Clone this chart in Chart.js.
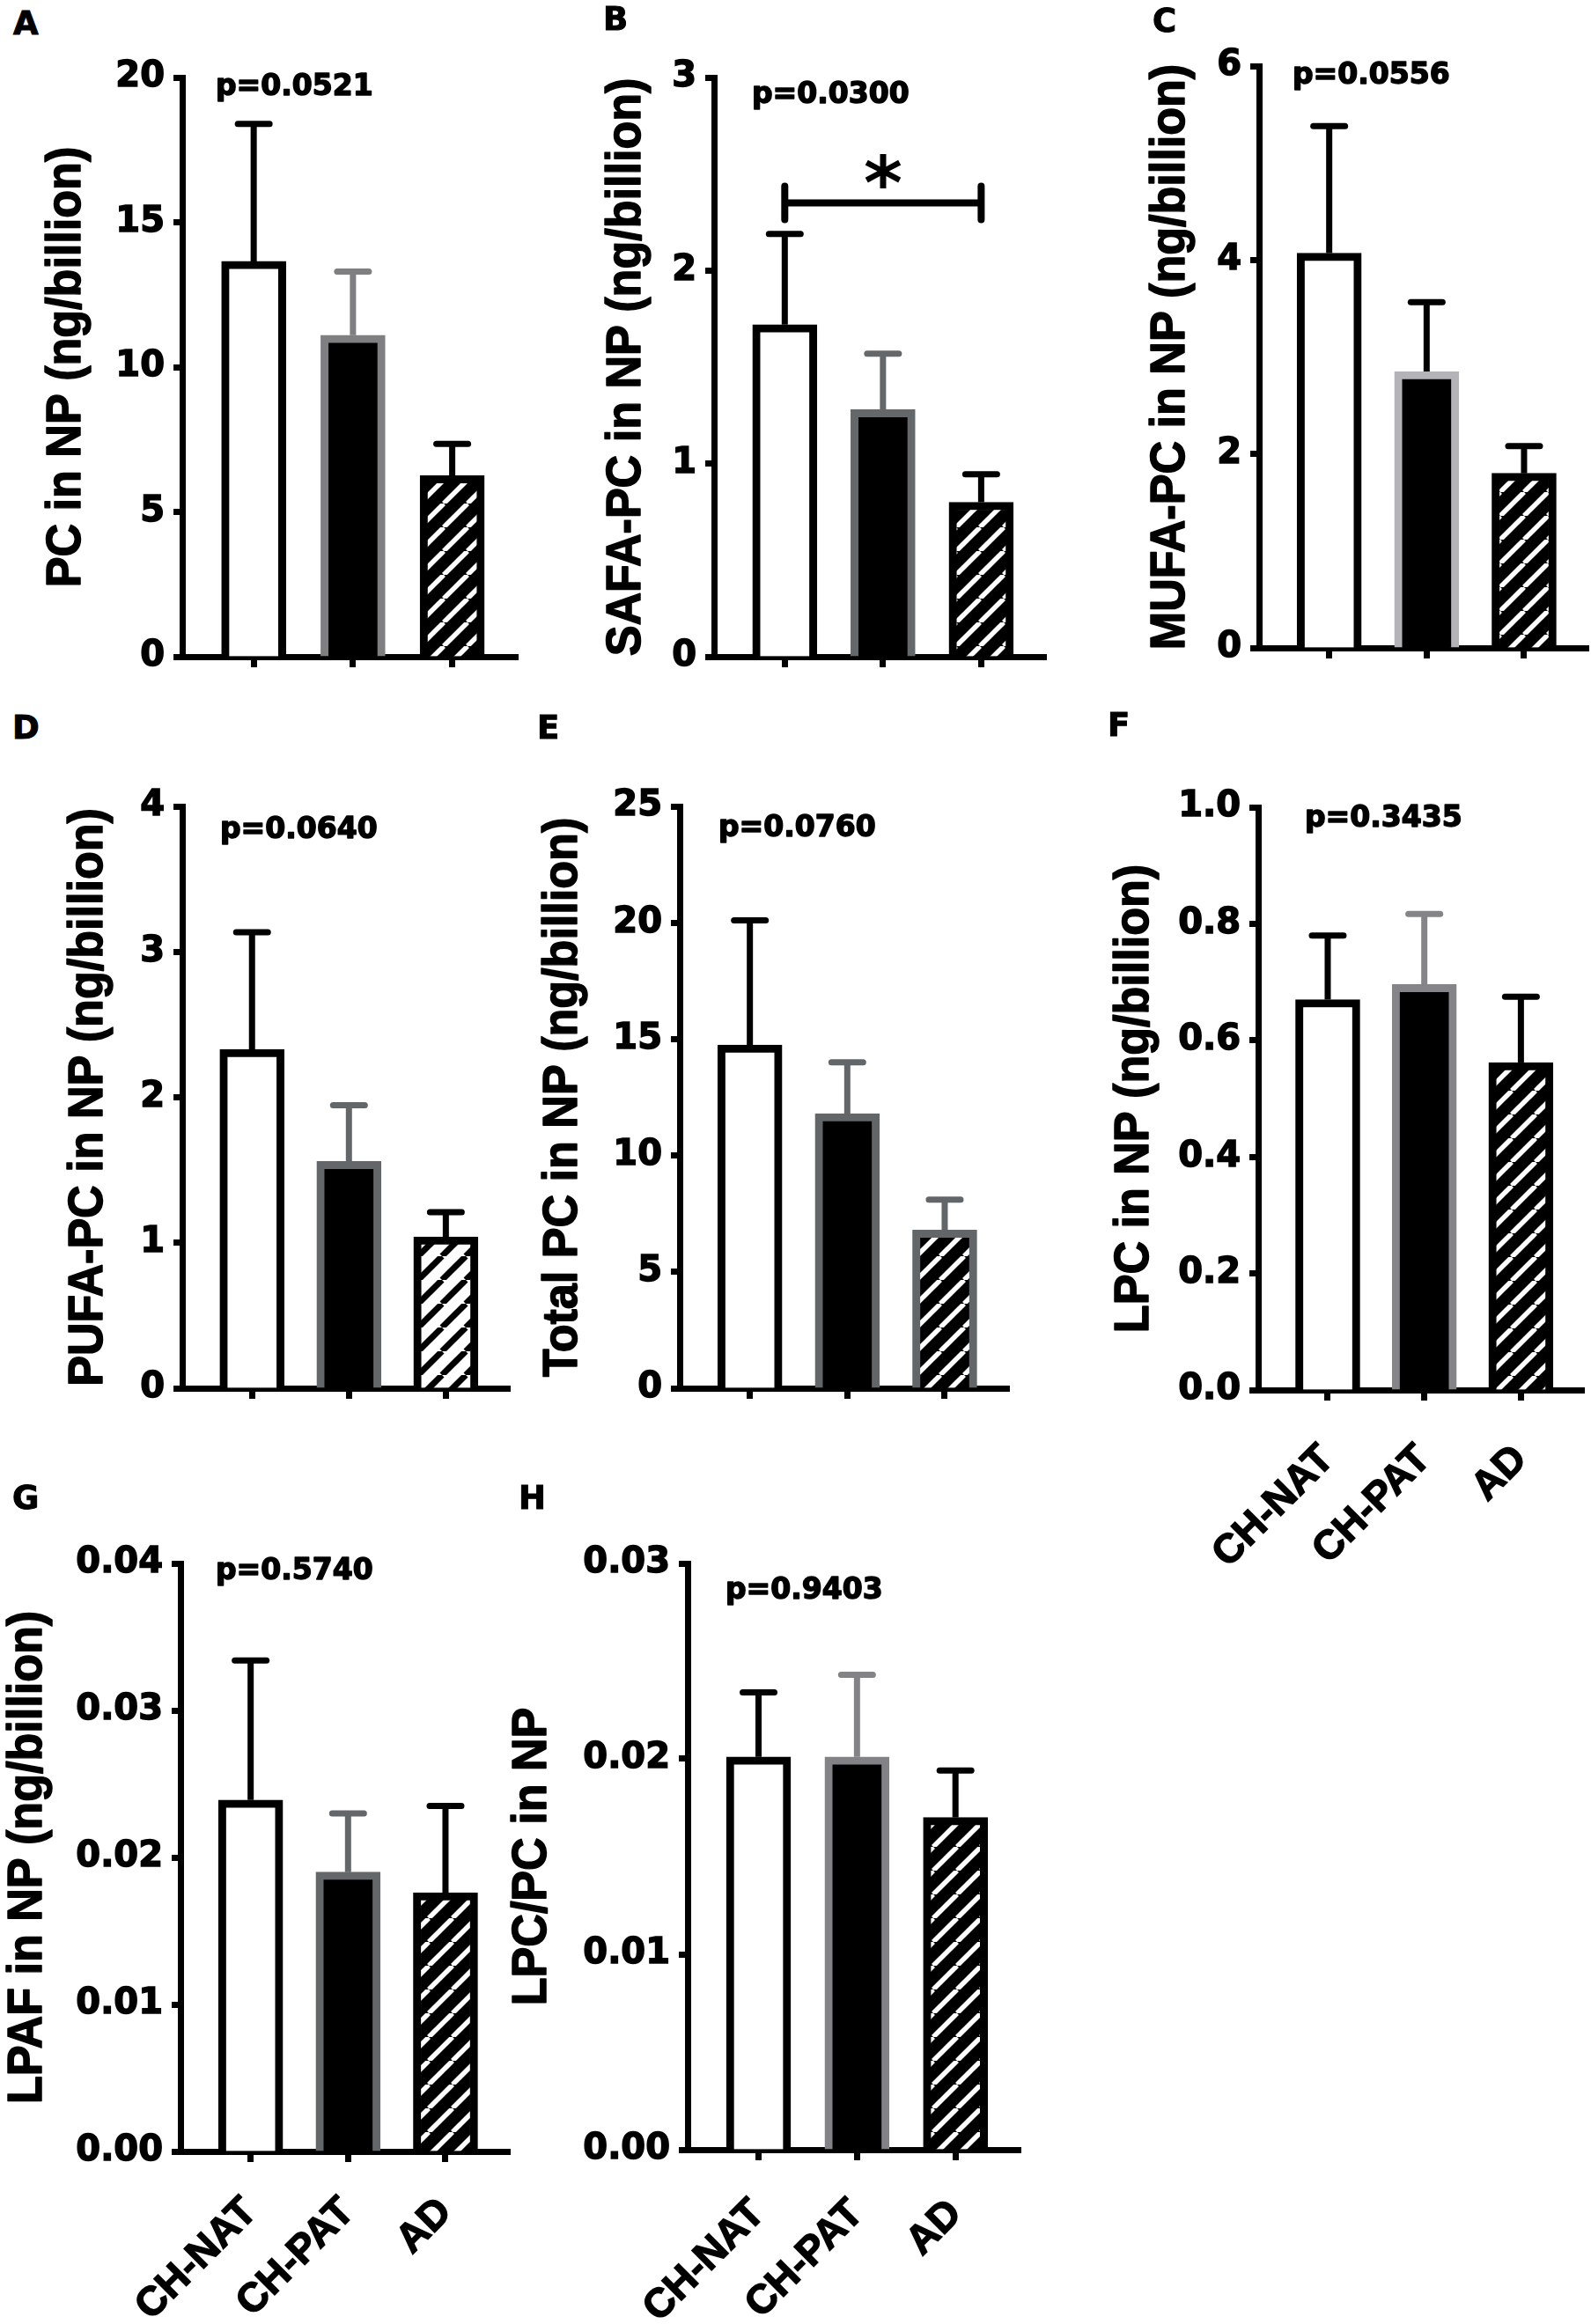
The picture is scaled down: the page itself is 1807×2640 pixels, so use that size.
<!DOCTYPE html>
<html>
<head>
<meta charset="utf-8">
<title>Phosphatidylcholine species in NP</title>
<script src="https://cdn.jsdelivr.net/npm/chart.js@4.4.1/dist/chart.umd.min.js"></script>
<style>
  body { margin: 0; background: #fff; }
  #fig { position: relative; width: 1807px; height: 2640px; background: #fff; overflow: hidden; }
  #fig canvas { position: absolute; }
  .letter { position: absolute; font: bold 37px "DejaVu Sans"; line-height: 37px; color: #000; -webkit-text-stroke: 1px #000; }
</style>
</head>
<body>
<div id="fig"></div>
<script>
// ===== data (mean and SEM per group) =====
const groups = ["CH-NAT", "CH-PAT", "AD"];

const pcMean = [13.65, 11.1, 6.25];
const pcSem = [4.75, 2.2, 1.1];
const safaMean = [1.72, 1.28, 0.80];
const safaSem = [0.47, 0.29, 0.145];
const mufaMean = [4.07, 2.85, 1.80];
const mufaSem = [1.31, 0.715, 0.28];
const pufaMean = [2.33, 1.56, 1.04];
const pufaSem = [0.805, 0.385, 0.17];
const totalMean = [14.75, 11.8, 6.8];
const totalSem = [5.35, 2.2, 1.3];
const lpcMean = [0.67, 0.696, 0.562];
const lpcSem = [0.11, 0.121, 0.113];
const lpafMean = [0.0239, 0.0190, 0.0176];
const lpafSem = [0.0095, 0.0040, 0.0059];
const ratioMean = [0.0201, 0.0201, 0.0170];
const ratioSem = [0.0033, 0.0042, 0.0024];

// y tick labels
const pcTicks = [0, 5, 10, 15, 20];
const safaTicks = [0, 1, 2, 3];
const mufaTicks = [0, 2, 4, 6];
const pufaTicks = [0, 1, 2, 3, 4];
const totalTicks = [0, 5, 10, 15, 20, 25];
const lpcTicks = [0, 0.2, 0.4, 0.6, 0.8, 1.0];
const lpafTicks = [0, 0.01, 0.02, 0.03, 0.04];
const ratioTicks = [0, 0.01, 0.02, 0.03];

const pValues = ["p=0.0521", "p=0.0300", "p=0.0556", "p=0.0640",
                 "p=0.0760", "p=0.3435", "p=0.5740", "p=0.9403"];

// significance bracket in panel B (CH-NAT vs AD)
const safaBracket = { from: 0, to: 2, level: 2.35, star: 2.54, text: "*" };

// ===== layout of the panels (page pixels) =====
const panels = [
  { letter: "A", title: "PC in NP (ng/billion)", mean: pcMean, sem: pcSem, ticks: pcTicks, dec: 0, p: pValues[0],
    axisX: 207, top: 88, bottom: 750, right: 588, titleX: 76, pDx: 38, pBase: 20, lx: 16, ly: 13,
    grey: "#7f7f82", errGrey: [false, true, false], bar3Border: "#000", lightHatch: false },
  { letter: "B", title: "SAFA-PC in NP (ng/billion)", mean: safaMean, sem: safaSem, ticks: safaTicks, dec: 0, p: pValues[1],
    axisX: 811, top: 88, bottom: 750, right: 1188, titleX: 712, pDx: 43, pBase: 29, lx: 686, ly: 8,
    grey: "#65686a", errGrey: [false, true, false], bar3Border: "#000", lightHatch: false, bracket: safaBracket },
  { letter: "C", title: "MUFA-PC in NP (ng/billion)", mean: mufaMean, sem: mufaSem, ticks: mufaTicks, dec: 0, p: pValues[2],
    axisX: 1430, top: 75, bottom: 740, right: 1804, titleX: 1330, pDx: 38, pBase: 20, lx: 1310, ly: 10,
    grey: "#b3b3b8", errGrey: [false, false, false], bar3Border: "#000", lightHatch: false },
  { letter: "D", title: "PUFA-PC in NP (ng/billion)", mean: pufaMean, sem: pufaSem, ticks: pufaTicks, dec: 0, p: pValues[3],
    axisX: 207, top: 916, bottom: 1581, right: 579, titleX: 101, pDx: 43, pBase: 36, lx: 15, ly: 813,
    grey: "#646769", errGrey: [false, true, false], bar3Border: "#000", lightHatch: true },
  { letter: "E", title: "Total PC in NP (ng/billion)", mean: totalMean, sem: totalSem, ticks: totalTicks, dec: 0, p: pValues[4],
    axisX: 772, top: 916, bottom: 1581, right: 1146, titleX: 640, pDx: 44, pBase: 34, lx: 611, ly: 813,
    grey: "#636668", errGrey: [false, true, true], bar3Border: "#636668", lightHatch: false },
  { letter: "F", title: "LPC in NP (ng/billion)", mean: lpcMean, sem: lpcSem, ticks: lpcTicks, dec: 1, p: pValues[5],
    axisX: 1429, top: 917, bottom: 1579, right: 1804, titleX: 1289, pDx: 53, pBase: 22, lx: 1259, ly: 810,
    grey: "#858589", errGrey: [false, true, false], bar3Border: "#000", lightHatch: false, labelPad: 40 },
  { letter: "G", title: "LPAF in NP (ng/billion)", mean: lpafMean, sem: lpafSem, ticks: lpafTicks, dec: 2, p: pValues[6],
    axisX: 205, top: 1776, bottom: 2444, right: 579, titleX: 32, pDx: 40, pBase: 18, lx: 15, ly: 1688,
    grey: "#646769", errGrey: [false, true, false], bar3Border: "#000", lightHatch: false, labelPad: 30 },
  { letter: "H", title: "LPC/PC in NP", mean: ratioMean, sem: ratioSem, ticks: ratioTicks, dec: 2, p: pValues[7],
    axisX: 781, top: 1776, bottom: 2442, right: 1159, titleX: 605, pDx: 43, pBase: 40, lx: 590, ly: 1688,
    grey: "#838387", errGrey: [false, true, false], bar3Border: "#000", lightHatch: false, labelPad: 34 }
];

// diagonal hatch fill for the AD bars
function makeHatch(light) {
  const s = 27;
  const c = document.createElement("canvas");
  c.width = s; c.height = s;
  const g = c.getContext("2d");
  g.fillStyle = light ? "#fff" : "#000";
  g.fillRect(0, 0, s, s);
  g.strokeStyle = light ? "#000" : "#fff";
  g.lineWidth = light ? 7 : 5.5;
  for (let k = -1; k <= 1; k++) {
    g.beginPath();
    g.moveTo(k * s, s);
    g.lineTo(k * s + s, 0);
    g.stroke();
  }
  return g.createPattern(c, "repeat");
}

function heavyText(ctx, text, x, y) {
  ctx.lineWidth = 1.5;
  ctx.lineJoin = "round";
  ctx.strokeStyle = "#000";
  ctx.strokeText(text, x, y);
  ctx.fillText(text, x, y);
}

// error bars, p value, y title and significance bracket
const annotations = {
  id: "annotations",
  afterDatasetsDraw(chart, args, opts) {
    const { ctx, chartArea } = chart;
    const y = chart.scales.y;
    const x = chart.scales.x;
    const meta = chart.getDatasetMeta(0);
    ctx.save();
    ctx.lineWidth = 7;
    meta.data.forEach((bar, i) => {
      const yTop = y.getPixelForValue(opts.mean[i] + opts.sem[i]);
      ctx.strokeStyle = opts.errColors[i];
      ctx.lineCap = "butt";
      ctx.beginPath();
      ctx.moveTo(bar.x, bar.y);
      ctx.lineTo(bar.x, yTop);
      ctx.stroke();
      ctx.lineCap = "round";
      ctx.beginPath();
      ctx.moveTo(bar.x - 18, yTop);
      ctx.lineTo(bar.x + 18, yTop);
      ctx.stroke();
    });

    ctx.fillStyle = "#000";
    ctx.font = 'bold 33px "DejaVu Sans"';
    ctx.textAlign = "left";
    ctx.textBaseline = "alphabetic";
    heavyText(ctx, opts.pText, chartArea.left + opts.pDx, chartArea.top + opts.pBase);

    // y axis title, slightly condensed like the original
    ctx.save();
    ctx.translate(opts.titleX, (chartArea.top + chartArea.bottom) / 2);
    ctx.rotate(-Math.PI / 2);
    ctx.scale(0.93, 1);
    ctx.font = 'bold 56px "Liberation Sans"';
    ctx.textAlign = "center";
    ctx.textBaseline = "middle";
    heavyText(ctx, opts.title, 0, 0);
    ctx.restore();

    const br = opts.bracket;
    if (br) {
      const x0 = x.getPixelForValue(br.from);
      const x1 = x.getPixelForValue(br.to);
      const yb = y.getPixelForValue(br.level);
      ctx.strokeStyle = "#000";
      ctx.lineWidth = 8;
      ctx.lineCap = "round";
      ctx.beginPath();
      ctx.moveTo(x0, yb); ctx.lineTo(x1, yb);
      ctx.moveTo(x0, yb - 19); ctx.lineTo(x0, yb + 19);
      ctx.moveTo(x1, yb - 19); ctx.lineTo(x1, yb + 19);
      ctx.stroke();
      ctx.font = 'bold 84px "DejaVu Sans"';
      ctx.textAlign = "center";
      ctx.fillText(br.text, (x0 + x1) / 2, y.getPixelForValue(br.star) + 48);
    }
    ctx.restore();
  }
};

const fig = document.getElementById("fig");

panels.forEach(p => {
  const left = p.titleX - 31;
  const top = p.top - 110;
  const right = p.right + 3;
  const bottom = p.bottom + (p.labelPad ? 215 : 30);

  const cv = document.createElement("canvas");
  cv.width = right - left;
  cv.height = bottom - top;
  cv.style.left = left + "px";
  cv.style.top = top + "px";
  cv.style.width = (right - left) + "px";
  cv.style.height = (bottom - top) + "px";
  fig.appendChild(cv);

  const letter = document.createElement("div");
  letter.className = "letter";
  letter.textContent = p.letter;
  letter.style.left = (p.lx - 1) + "px";
  letter.style.top = (p.ly - 5) + "px";
  fig.appendChild(letter);

  const errColors = p.errGrey.map(g => (g ? p.grey : "#000"));

  new Chart(cv, {
    type: "bar",
    data: {
      datasets: [
        {
          data: p.mean.map((v, i) => ({ x: i, y: v })),
          backgroundColor: ["#fff", "#000", makeHatch(p.lightHatch)],
          borderColor: ["#000", p.grey, p.bar3Border],
          borderWidth: 9,
          borderSkipped: "start",
          barThickness: 73
        }
      ]
    },
    options: {
      responsive: false,
      animation: false,
      devicePixelRatio: 1,
      events: [],
      layout: { padding: { top: p.top - top, right: right - p.right, left: 0, bottom: 0 } },
      plugins: {
        legend: { display: false },
        tooltip: { enabled: false },
        annotations: {
          mean: p.mean, sem: p.sem, errColors: errColors, title: p.title, titleX: p.titleX - left,
          pText: p.p, pDx: p.pDx, pBase: p.pBase, bracket: p.bracket || null
        }
      },
      scales: {
        x: {
          type: "linear",
          min: -0.72,
          max: 2.66,
          offset: false,
          z: 1,
          afterBuildTicks: s => { s.ticks = groups.map((g, i) => ({ value: i })); },
          afterFit: s => { s.height = bottom - p.bottom; },
          grid: { offset: false, drawOnChartArea: false, drawTicks: true, tickLength: 12, tickWidth: 7, tickColor: "#000" },
          border: { display: true, width: 7, color: "#000" },
          ticks: {
            display: !!p.labelPad,
            autoSkip: false,
            minRotation: 45,
            maxRotation: 45,
            padding: p.labelPad || 0,
            color: "#000",
            textStrokeColor: "#000",
            textStrokeWidth: 1.5,
            font: { family: "Liberation Sans", weight: "bold", size: 46 },
            callback: v => groups[v]
          }
        },
        y: {
          min: p.ticks[0],
          max: p.ticks[p.ticks.length - 1],
          z: 1,
          afterBuildTicks: s => { s.ticks = p.ticks.map(v => ({ value: v })); },
          afterFit: s => { s.width = p.axisX - left; },
          grid: { drawOnChartArea: false, drawTicks: true, tickLength: 10, tickWidth: 7, tickColor: "#000" },
          border: { display: true, width: 7, color: "#000" },
          ticks: {
            padding: 10,
            color: "#000",
            textStrokeColor: "#000",
            textStrokeWidth: 1.5,
            font: { family: "DejaVu Sans", weight: "bold", size: 40 },
            callback: v => Number(v).toFixed(p.dec)
          }
        }
      }
    },
    plugins: [annotations]
  });
});
</script>
</body>
</html>
